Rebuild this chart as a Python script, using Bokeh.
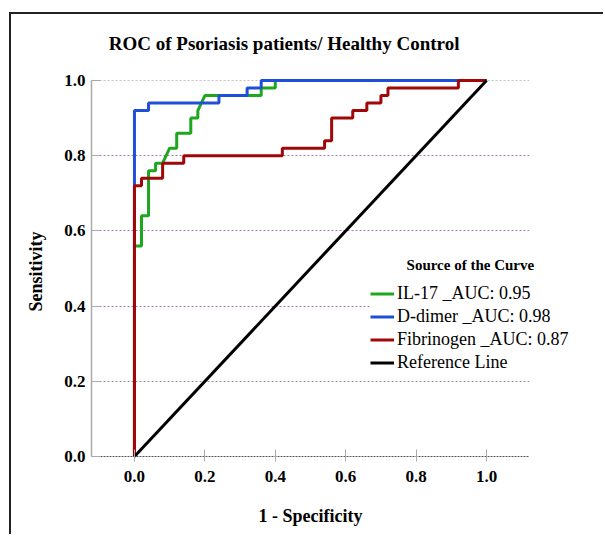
from bokeh.plotting import figure
from bokeh.models import (Range1d, FixedTicker, PrintfTickFormatter, Grid, Legend,
                          LegendItem, Label, BoxAnnotation)
from bokeh.embed import file_html
from bokeh.resources import INLINE

# ---------------- data ----------------
title_text = "ROC of Psoriasis patients/ Healthy Control"
x_label = "1 - Specificity"
y_label = "Sensitivity"
legend_title = "Source of the Curve"

tick_values = [0.0, 0.2, 0.4, 0.6, 0.8, 1.0]

il17_fpr = [0.0, 0.0, 0.02, 0.02, 0.04, 0.04, 0.06, 0.06, 0.08, 0.10, 0.12, 0.12, 0.16,
            0.16, 0.18, 0.18, 0.20, 0.36, 0.36, 0.40, 0.40, 1.0]
il17_tpr = [0.0, 0.56, 0.56, 0.64, 0.64, 0.76, 0.76, 0.78, 0.78, 0.82, 0.82, 0.86, 0.86,
            0.90, 0.90, 0.92, 0.96, 0.96, 0.98, 0.98, 1.0, 1.0]

ddimer_fpr = [0.0, 0.0, 0.04, 0.04, 0.24, 0.24, 0.32, 0.32, 0.36, 0.36, 1.0]
ddimer_tpr = [0.0, 0.92, 0.92, 0.94, 0.94, 0.96, 0.96, 0.98, 0.98, 1.0, 1.0]

fib_fpr = [0.0, 0.0, 0.02, 0.02, 0.08, 0.08, 0.14, 0.14, 0.42, 0.42, 0.54, 0.54, 0.56,
           0.56, 0.62, 0.62, 0.66, 0.66, 0.70, 0.70, 0.72, 0.72, 0.92, 0.92, 1.0]
fib_tpr = [0.0, 0.72, 0.72, 0.74, 0.74, 0.78, 0.78, 0.80, 0.80, 0.82, 0.82, 0.84, 0.84,
           0.90, 0.90, 0.92, 0.92, 0.94, 0.94, 0.96, 0.96, 0.98, 0.98, 1.0, 1.0]

ref_x = [0.0, 1.0]
ref_y = [0.0, 1.0]

series_labels = ["IL-17 _AUC: 0.95", "D-dimer _AUC: 0.98",
                 "Fibrinogen _AUC: 0.87", "Reference Line"]
series_colors = ["#1ea61e", "#1f4fd8", "#a00808", "#000000"]

FONT = "Liberation Serif"

X_MIN, X_MAX = -0.122, 1.122   # visible axis extent

# ---------------- figure ----------------
PX_X, PX_Y = 352.1, 376.0       # pixels per unit
p = figure(width=594, height=522, output_backend="svg", toolbar_location=None,
           x_range=Range1d(X_MIN, X_MIN + 514 / PX_X),
           y_range=Range1d(-72 / PX_Y, 442 / PX_Y),
           min_border_left=80, min_border_right=0, min_border_top=0,
           min_border_bottom=8)
p.styles = {"margin-left": "9px", "margin-top": "12px",
            "border-left": "2px solid #222222", "border-top": "2px solid #222222"}
p.outline_line_color = None
p.background_fill_color = "white"
p.border_fill_color = "white"
p.xgrid.visible = False
p.ygrid.visible = False

# axes
p.xaxis.ticker = FixedTicker(ticks=tick_values)
p.yaxis.ticker = FixedTicker(ticks=tick_values)
for ax in (p.xaxis[0], p.yaxis[0]):
    ax.formatter = PrintfTickFormatter(format="%.1f")
    ax.major_label_text_font = FONT
    ax.major_label_text_font_style = "bold"
    ax.major_label_text_font_size = "17px"
    ax.major_label_text_color = "black"
    ax.axis_label_text_font = FONT
    ax.axis_label_text_font_style = "bold"
    ax.axis_label_text_color = "black"
    ax.minor_tick_line_color = None
    ax.major_tick_line_color = "#aaaaaa"

p.xaxis.fixed_location = 0
p.xaxis.bounds = (X_MIN, X_MAX)
p.xaxis.axis_line_color = "#555555"
p.xaxis.axis_line_dash = "2 1"
p.xaxis.major_tick_in = 7
p.xaxis.major_tick_out = 5
p.xaxis.major_label_standoff = 9

p.yaxis.axis_label = y_label
p.yaxis.axis_label_text_font_size = "18px"
p.yaxis.axis_line_color = "#aaaaaa"
p.yaxis.axis_line_width = 1.5
p.yaxis.bounds = (0, 1)
p.yaxis.major_tick_in = 9
p.yaxis.major_tick_out = 0
p.yaxis.major_label_standoff = 6
p.yaxis.axis_label_standoff = 15

# horizontal reference gridlines
p.add_layout(Grid(dimension=1, ticker=FixedTicker(ticks=[1.0]), grid_line_color="#c0c0c0",
                  grid_line_dash="2 2", grid_line_width=1))
p.add_layout(Grid(dimension=1, ticker=FixedTicker(ticks=[0.4, 0.6, 0.8]),
                  grid_line_color="#a878b0", grid_line_dash="2 2", grid_line_width=1))
p.add_layout(Grid(dimension=1, ticker=FixedTicker(ticks=[0.2]), grid_line_color="#909090",
                  grid_line_dash="2 2", grid_line_width=1))
# gridlines stop at the right end of the axis
p.add_layout(BoxAnnotation(left=X_MAX, fill_color="white", fill_alpha=1.0,
                           line_color=None, level="underlay"))

# curves
lw = 3
r_il = p.line(il17_fpr, il17_tpr, line_color=series_colors[0], line_width=lw)
r_dd = p.line(ddimer_fpr, ddimer_tpr, line_color=series_colors[1], line_width=lw)
r_fb = p.line(fib_fpr, fib_tpr, line_color=series_colors[2], line_width=lw)
r_ref = p.line(ref_x, ref_y, line_color=series_colors[3], line_width=lw)

# legend position: frame bottom sits 72px below y=0
legend = Legend(items=[LegendItem(label=series_labels[0], renderers=[r_il]),
                       LegendItem(label=series_labels[1], renderers=[r_dd]),
                       LegendItem(label=series_labels[2], renderers=[r_fb]),
                       LegendItem(label=series_labels[3], renderers=[r_ref])],
                location=(279, 82 + 72), padding=10, spacing=0, margin=0,
                glyph_width=24, glyph_height=23, label_height=23, label_standoff=3,
                label_text_font=FONT, label_text_font_size="18px",
                label_text_color="black",
                border_line_color=None, background_fill_color="white",
                background_fill_alpha=1.0)
p.add_layout(legend)

p.add_layout(Label(x=0.954, y=0.508, text=legend_title, text_font=FONT,
                   text_font_style="bold", text_font_size="15px", text_align="center",
                   text_baseline="middle", text_color="black"))

# chart title and x axis title (centred over the visible axis span)
p.add_layout(Label(x=0.425, y=1.098, text=title_text, text_font=FONT,
                   text_font_style="bold", text_font_size="19px", text_align="center",
                   text_baseline="middle", text_color="black"))
p.add_layout(Label(x=0.5, y=-0.157, text=x_label, text_font=FONT,
                   text_font_style="bold", text_font_size="18px", text_align="center",
                   text_baseline="middle", text_color="black"))

open("out.html", "w").write(file_html(p, INLINE))
